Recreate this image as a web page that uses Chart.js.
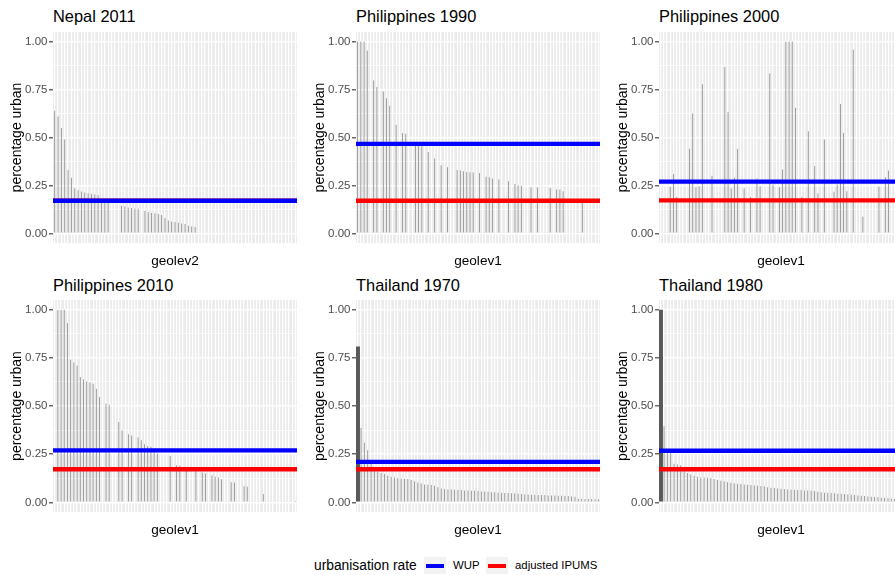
<!DOCTYPE html>
<html lang="en">
<head>
<meta charset="UTF-8">
<title>urbanisation rate by region</title>
<script src="https://cdn.jsdelivr.net/npm/chart.js"></script>
<style>
  html, body { margin: 0; padding: 0; background: #fff; }
  body { width: 895px; height: 575px; overflow: hidden; position: relative;
         font-family: "Liberation Sans", Arial, sans-serif; }
  canvas { position: absolute; }
  .ptitle { position: absolute; font-size: 16.4px; line-height: 16px; color: #000; white-space: nowrap; }
  .legend { position: absolute; top: 557px; left: 0; height: 17px; }
  .legend span { position: absolute; white-space: nowrap; line-height: 17px; color: #000; }
  .key { position: absolute; top: 0; width: 22px; height: 17px; background: #f2f2f2; }
  .key i { position: absolute; left: 2px; right: 2px; top: 6.5px; height: 4px; }
</style>
</head>
<body>

<div class="ptitle" style="left:53px; top:8px">Nepal 2011</div>
<div class="ptitle" style="left:356px; top:8px">Philippines 1990</div>
<div class="ptitle" style="left:659px; top:8px">Philippines 2000</div>
<div class="ptitle" style="left:53px; top:277px">Philippines 2010</div>
<div class="ptitle" style="left:356px; top:277px">Thailand 1970</div>
<div class="ptitle" style="left:659px; top:277px">Thailand 1980</div>

<canvas id="c0" width="297" height="269" style="left:0px; top:0px"></canvas>
<canvas id="c1" width="297" height="269" style="left:303px; top:0px"></canvas>
<canvas id="c2" width="297" height="269" style="left:606px; top:0px"></canvas>
<canvas id="c3" width="297" height="270" style="left:0px; top:268px"></canvas>
<canvas id="c4" width="297" height="270" style="left:303px; top:268px"></canvas>
<canvas id="c5" width="297" height="270" style="left:606px; top:268px"></canvas>

<div class="legend">
  <span style="left:314px; font-size:13.8px">urbanisation rate</span>
  <div class="key" style="left:424px"><i style="background:#0000ff"></i></div>
  <span style="left:453px; font-size:11.4px">WUP</span>
  <div class="key" style="left:486px"><i style="background:#ff0000"></i></div>
  <span style="left:515px; font-size:11.4px">adjusted IPUMS</span>
</div>

<script>
// share of urban population per region, regions sorted as in the source plot
const nepal2011 = [0.64, 0.61, 0.55, 0.49, 0.33, 0.29, 0.235, 0.225, 0.218, 0.213,
  0.21, 0.206, 0.203, 0.2, 0.18, 0.18, 0.175, null, null, null,
  0.143, 0.14, 0.135, 0.133, 0.13, 0.128, null, 0.117, 0.112, 0.108,
  0.105, 0.101, 0.096, 0.08, 0.067, 0.062, 0.059, 0.056, 0.052, 0.049,
  0.04, 0.036, 0.033]

const philippines1990 = [1.0, 1.0, 1.0, 0.953, null, 0.797, 0.763, null, 0.74, 0.705,
  0.665, null, 0.567, null, 0.523, 0.52, null, null, 0.463, 0.46,
  0.454, null, 0.425, null, 0.39, null, 0.354, null, 0.345, null,
  null, 0.33, 0.328, 0.324, 0.32, 0.319, 0.318, null, 0.315, null,
  0.295, 0.293, 0.286, null, 0.281, null, null, 0.272, null, 0.258,
  0.251, 0.25, null, null, 0.241, null, 0.239, null, null, null,
  0.237, null, 0.229, 0.227, 0.22, null, null, null, null, null,
  0.165]

const philippines2000 = [null, null, null, 0.243, 0.31, 0.19, null, null, null, 0.442,
  0.626, 0.241, 0.246, 0.778, null, null, 0.30, null, null, null,
  0.867, 0.634, 0.234, 0.29, 0.44, null, 0.234, null, 0.19, null,
  0.286, 0.246, null, null, 0.834, 0.255, null, 0.241, 0.333, 1.0,
  1.0, 1.0, 0.655, null, 0.19, null, 0.532, null, 0.352, 0.208,
  null, 0.489, null, null, 0.217, 0.255, 0.674, 0.523, 0.22, null,
  0.957, null, null, 0.087, null, null, null, null, 0.244, null,
  0.293, 0.328]

const philippines2010 = [null, 1.0, 1.0, 1.0, 0.929, 0.74, 0.726, 0.71, 0.65, 0.638,
  0.628, 0.622, 0.616, 0.59, 0.547, null, 0.512, 0.507, null, null,
  0.417, 0.374, null, 0.353, 0.347, null, 0.336, 0.322, 0.302, 0.293,
  0.288, 0.262, 0.253, null, null, null, 0.24, null, 0.193, 0.19,
  null, 0.184, null, null, 0.167, null, 0.155, 0.15, null, 0.14,
  0.133, 0.129, 0.12, null, null, 0.105, 0.103, null, null, 0.084,
  0.081, null, null, null, null, 0.043, null, null, null, null,
  null, null, null, null, null, 0.007]

const thailand1970 = [0.809, 0.386, 0.309, 0.27, 0.205, 0.164, 0.159, 0.153, 0.147, 0.138,
  0.133, 0.129, 0.126, 0.124, 0.122, 0.121, 0.116, 0.109, 0.103, 0.098,
  0.093, 0.091, 0.09, 0.086, 0.078, 0.072, 0.069, 0.067, 0.067, 0.066,
  0.064, 0.064, 0.062, 0.062, 0.06, 0.06, 0.059, 0.057, 0.057, 0.055,
  0.053, 0.052, 0.05, 0.05, 0.048, 0.048, 0.047, 0.047, 0.045, 0.043,
  0.041, 0.041, 0.04, 0.04, 0.038, 0.038, 0.038, 0.036, 0.036, 0.036,
  0.034, 0.034, 0.033, 0.033, 0.031, 0.029, 0.019, 0.018, 0.018, 0.017,
  0.017, 0.016, 0.016]

const thailand1980 = [1.0, 0.395, 0.262, 0.26, 0.2, 0.196, 0.193, 0.162, 0.153, 0.145,
  0.138, 0.133, 0.129, 0.129, 0.128, 0.126, 0.121, 0.116, 0.112, 0.109,
  0.105, 0.102, 0.098, 0.097, 0.095, 0.093, 0.091, 0.09, 0.088, 0.086,
  0.085, 0.083, 0.079, 0.076, 0.074, 0.072, 0.071, 0.069, 0.067, 0.066,
  0.066, 0.064, 0.064, 0.062, 0.062, 0.06, 0.059, 0.055, 0.052, 0.05,
  0.05, 0.048, 0.047, 0.045, 0.045, 0.043, 0.041, 0.04, 0.038, 0.036,
  0.034, 0.033, 0.031, 0.029, 0.028, 0.026, 0.024, 0.022, 0.021, 0.019,
  0.018, 0.017, 0.016]

// number of regions (x categories) in each panel
const regionCounts = [73, 76, 76, 76, 73, 73]

// horizontal reference rates per panel
const wupRates = [0.17, 0.467, 0.27, 0.27, 0.21, 0.268]
const ipumsRates = [0.17, 0.17, 0.172, 0.172, 0.172, 0.172]

const xTitles = ['geolev2', 'geolev1', 'geolev1', 'geolev1', 'geolev1', 'geolev1']
const yGridValues = [0, 0.125, 0.25, 0.375, 0.5, 0.625, 0.75, 0.875, 1]
const yTickLabels = ['0.00', '0.25', '0.50', '0.75', '1.00']

const panelValues = [nepal2011, philippines1990, philippines2000, philippines2010, thailand1970, thailand1980]
// panels whose first region (the capital) is drawn as a wide bar
const widePanels = [4, 5]

const isMajor = v => Math.abs(v * 4 - Math.round(v * 4)) < 1e-9

Chart.defaults.font.family = '"Liberation Sans", Arial, sans-serif'

const panelBackground = {
    id: 'panelBackground',
    beforeDraw(chart) {
        const { ctx, chartArea: a } = chart
        ctx.save()
        ctx.fillStyle = '#ebebeb'
        ctx.fillRect(a.left, a.top, a.right - a.left, a.bottom - a.top)
        ctx.restore()
    }
}

const refLines = {
    id: 'refLines',
    afterDatasetsDraw(chart, args, opts) {
        const { ctx, chartArea: a, scales } = chart
        ctx.save()
        ctx.beginPath()
        ctx.rect(a.left, a.top, a.right - a.left, a.bottom - a.top)
        ctx.clip()
        ctx.lineWidth = 4.4
        for (const [value, colour] of [[opts.ipums, '#ff0000'], [opts.wup, '#0000ff']]) {
            const y = scales.y.getPixelForValue(value)
            ctx.strokeStyle = colour
            ctx.beginPath()
            ctx.moveTo(a.left, y)
            ctx.lineTo(a.right, y)
            ctx.stroke()
        }
        ctx.restore()
    }
}

panelValues.forEach((values, p) => {
    const regions = Array.from({ length: regionCounts[p] }, (_, i) => 'region ' + (i + 1))
    const wide = widePanels.includes(p)

    new Chart(document.getElementById('c' + p), {
        type: 'bar',
        data: {
            labels: regions,
            datasets: [{
                data: values.map((v, i) => (wide && i === 0) ? null : v),
                backgroundColor: 'rgba(89,89,89,0.72)',
                barThickness: 0.8,
                inflateAmount: 0,
                grouped: false
            }, {
                data: values.map((v, i) => (wide && i === 0) ? v : null),
                backgroundColor: '#595959',
                barThickness: 4.6,
                inflateAmount: 0,
                grouped: false
            }]
        },
        options: {
            responsive: false,
            animation: false,
            devicePixelRatio: 1,
            layout: { padding: { top: 32, left: 0, right: 0, bottom: 0 } },
            plugins: {
                legend: { display: false },
                tooltip: { enabled: false },
                refLines: { wup: wupRates[p], ipums: ipumsRates[p] }
            },
            scales: {
                x: {
                    type: 'category',
                    offset: true,
                    grid: { offset: false, color: '#ffffff', lineWidth: 1.2, drawTicks: false },
                    border: { display: false },
                    ticks: { display: false, autoSkip: false },
                    title: {
                        display: true, text: xTitles[p], color: '#000',
                        font: { size: 13.6 }, padding: { top: 4.9, bottom: 0 }
                    },
                    afterFit: scale => { scale.height = 26 }
                },
                y: {
                    type: 'linear',
                    min: -0.05,
                    max: 1.05,
                    afterBuildTicks: scale => { scale.ticks = yGridValues.map(v => ({ value: v })) },
                    grid: {
                        color: '#ffffff',
                        lineWidth: ctx => isMajor(ctx.tick.value) ? 1.6 : 0.8,
                        tickColor: ctx => isMajor(ctx.tick.value) ? '#333333' : 'rgba(0,0,0,0)',
                        tickWidth: 1.1,
                        tickLength: 4
                    },
                    border: { display: false },
                    ticks: {
                        autoSkip: false,
                        padding: 1.5,
                        color: '#4d4d4d',
                        font: { size: 11.5 },
                        callback: v => isMajor(v) ? yTickLabels[Math.round(v * 4)] : ''
                    },
                    title: {
                        display: true, text: 'percentage urban', color: '#000',
                        font: { size: 14 }, padding: { top: 9.1, bottom: 0 }
                    },
                    afterFit: scale => { scale.width = 53 }
                }
            }
        },
        plugins: [panelBackground, refLines]
    })
})
</script>
</body>
</html>
